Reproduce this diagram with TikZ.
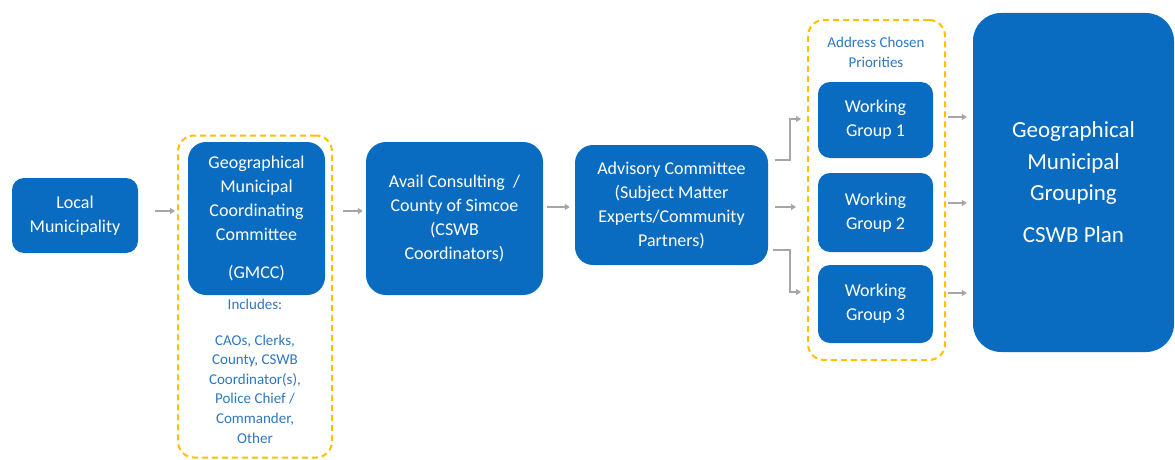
\documentclass[tikz,border=0pt]{standalone}
\usepackage{fontspec}
\setmainfont{Carlito}
\usetikzlibrary{arrows.meta}
\definecolor{boxblue}{HTML}{0A6CC0}
\definecolor{txtblue}{HTML}{2E78C2}
\definecolor{dashgold}{HTML}{FFC000}
\definecolor{arrgray}{HTML}{A6A6A6}
\begin{document}
\begin{tikzpicture}[x=1pt,y=-1pt,
  bluebox/.style={fill=boxblue, draw=none, text=white, align=center, inner sep=0pt,
    font=\fontsize{18}{24}\selectfont},
  goldframe/.style={draw=dashgold, line width=2pt, dash pattern=on 6pt off 4pt, inner sep=0pt},
  note/.style={text=txtblue, align=center, inner sep=0pt, font=\fontsize{15}{19.6}\selectfont},
  arr/.style={draw=arrgray, line width=2pt, -{Triangle[length=5pt,width=6pt]}},
]
\fill[white] (0,0) rectangle (1175,460);
\useasboundingbox (0,0) rectangle (1175,460);

% left column
\node[bluebox, rounded corners=12pt, minimum width=126pt, minimum height=75pt] (local) at (75,215.5) {Local\\Municipality};

\node[goldframe, rounded corners=16pt, minimum width=154pt, minimum height=322pt] (gmccframe) at (255,296.5) {};
\node[bluebox, rounded corners=18pt, minimum width=137pt, minimum height=153pt] (gmcc) at (256.5,218.5)
  {Geographical\\Municipal\\Coordinating\\Committee\\[14pt](GMCC)};
\node[note] (incl) at (255,304) {Includes:};
\node[note] (members) at (255,389) {CAOs, Clerks,\\County, CSWB\\Coordinator(s),\\Police Chief /\\Commander,\\Other};

\node[bluebox, rounded corners=20pt, minimum width=177pt, minimum height=153pt] (avail) at (454.5,218.5)
  {Avail Consulting~ /\\County of Simcoe\\(CSWB\\Coordinators)};

\node[bluebox, rounded corners=18pt, minimum width=193pt, minimum height=120pt] (advisory) at (671.5,205)
  {Advisory Committee\\(Subject Matter\\Experts/Community\\Partners)};

% working groups
\node[goldframe, rounded corners=16pt, minimum width=137pt, minimum height=340pt] (wgframe) at (876.5,190) {};
\node[note, font=\fontsize{15}{20}\selectfont] (address) at (876,52) {Address Chosen\\Priorities};
\node[bluebox, rounded corners=12pt, minimum width=115pt, minimum height=76pt] (wg1) at (875.5,120) {Working\\Group 1};
\node[bluebox, rounded corners=12pt, minimum width=115pt, minimum height=79pt] (wg2) at (875.5,212.5) {Working\\Group 2};
\node[bluebox, rounded corners=12pt, minimum width=115pt, minimum height=78pt] (wg3) at (875.5,304) {Working\\Group 3};

\node[bluebox, rounded corners=28pt, minimum width=201pt, minimum height=339pt,
  font=\fontsize{23}{31.5}\selectfont] (plan) at (1073.5,182.5)
  {Geographical\\Municipal\\Grouping\\[10.5pt]CSWB Plan};

% connectors
\draw[arr, shorten <=17pt, shorten >=2pt] (local.east |- 0,211) -- (gmccframe.west |- 0,211);
\draw[arr, shorten <=10pt, shorten >=3pt] (gmccframe.east |- 0,211) -- (avail.west |- 0,211);
\draw[arr, shorten <=4pt, shorten >=5pt] (avail.east |- 0,207) -- (advisory.west |- 0,207);

\draw[arr, shorten <=7pt, shorten >=6pt] (advisory.east |- 0,160) -- (790,160) |- (wgframe.west |- 0,119);
\draw[arr, shorten <=7pt, shorten >=11pt] (advisory.east |- 0,207) -- (wgframe.west |- 0,207);
\draw[arr, shorten <=5pt, shorten >=6pt] (advisory.east |- 0,250) -- (790,250) |- (wgframe.west |- 0,292);

\draw[arr, shorten <=2pt, shorten >=6pt] (wgframe.east |- 0,117) -- (plan.west |- 0,117);
\draw[arr, shorten <=2pt, shorten >=6pt] (wgframe.east |- 0,203) -- (plan.west |- 0,203);
\draw[arr, shorten <=2pt, shorten >=6pt] (wgframe.east |- 0,293) -- (plan.west |- 0,293);
\end{tikzpicture}
\end{document}
